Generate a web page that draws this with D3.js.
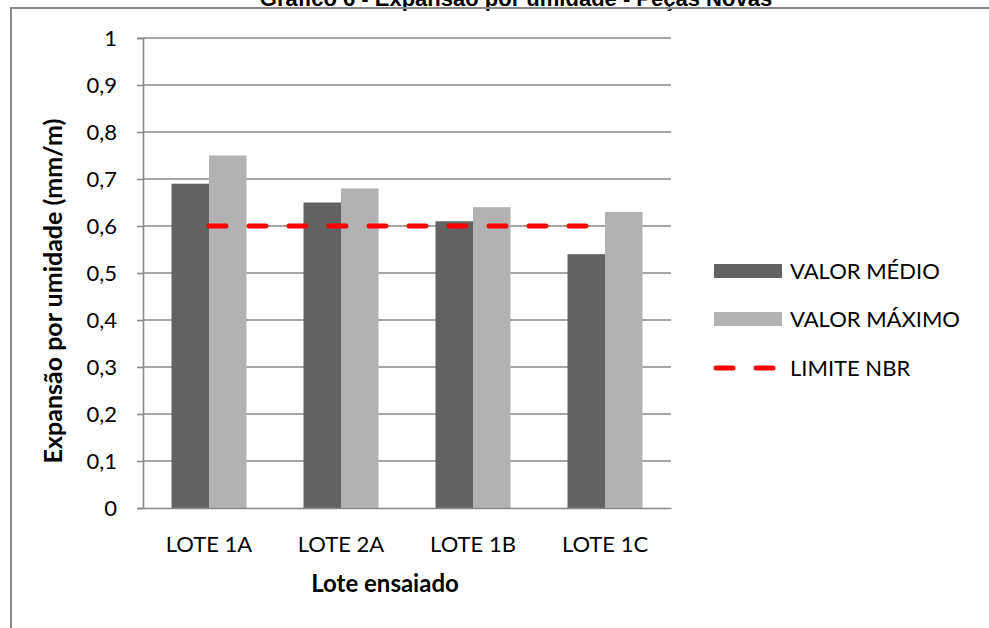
<!DOCTYPE html>
<html>
<head>
<meta charset="utf-8">
<script src="https://cdn.jsdelivr.net/npm/d3@7/dist/d3.min.js"></script>
<style>
  html, body { margin: 0; padding: 0; background: #fff; }
  svg { display: block; }
</style>
</head>
<body>
<svg id="chart" width="989" height="628"></svg>
<script>
// Data
const categories = ["LOTE 1A", "LOTE 2A", "LOTE 1B", "LOTE 1C"];
const seriesNames = ["VALOR MÉDIO", "VALOR MÁXIMO"];
const valorMedio = [0.69, 0.65, 0.61, 0.54];
const valorMaximo = [0.75, 0.68, 0.64, 0.63];
const limiteNbr = [0.6, 0.6, 0.6, 0.6];
const yTicks = [0, 0.1, 0.2, 0.3, 0.4, 0.5, 0.6, 0.7, 0.8, 0.9, 1];
const limiteName = "LIMITE NBR";
const titleText = "Gráfico 6 - Expansão por umidade - Peças Novas";
const yTitle = "Expansão por umidade (mm/m)";
const xTitle = "Lote ensaiado";

const seriesColors = { "VALOR MÉDIO": "#626262", "VALOR MÁXIMO": "#b2b2b2" };
const gridColor = "#898989";
const labelFont = "Lato, 'Open Sans', sans-serif";

const svg = d3.select("#chart");

// Plot area
const plot = { left: 143, right: 671, top: 38, bottom: 508 };

const x = d3.scaleBand()
  .domain(categories)
  .range([plot.left, plot.right])
  .paddingInner(0.432)
  .paddingOuter(0.216);

const xInner = d3.scaleBand()
  .domain(seriesNames)
  .range([0, x.bandwidth()]);

const y = d3.scaleLinear().domain([0, 1]).range([plot.bottom, plot.top]);

// Title (sits mostly above the top edge of the frame)
svg.append("text")
  .attr("x", 516)
  .attr("y", 6)
  .attr("text-anchor", "middle")
  .attr("font-family", "'Liberation Sans', Arial, sans-serif")
  .attr("font-weight", "bold")
  .attr("font-size", 22)
  .attr("fill", "#000")
  .text(titleText);

// Chart frame (left and top edges)
svg.append("path")
  .attr("d", "M11,640 L11,8 L995,8")
  .attr("fill", "none")
  .attr("stroke", "#8a8a8a")
  .attr("stroke-width", 2);

// Horizontal gridlines
svg.append("g")
  .selectAll("line")
  .data(yTicks.filter(d => d > 0))
  .join("line")
  .attr("x1", plot.left)
  .attr("x2", plot.right)
  .attr("y1", d => y(d))
  .attr("y2", d => y(d))
  .attr("stroke", gridColor)
  .attr("stroke-width", 1.6);

// Y axis
const yAxis = d3.axisLeft(y)
  .tickValues(yTicks)
  .tickSize(6)
  .tickPadding(20)
  .tickFormat(d => d3.format("~g")(d).replace(".", ","));

const gy = svg.append("g")
  .attr("transform", `translate(${plot.left},0)`)
  .call(yAxis);
gy.select(".domain").attr("stroke", gridColor).attr("stroke-width", 1.6);
gy.selectAll(".tick line").attr("stroke", gridColor).attr("stroke-width", 1.6);
gy.selectAll(".tick text")
  .attr("font-family", labelFont)
  .attr("font-size", 22)
  .attr("fill", "#000");

// Bars
const seriesData = [valorMedio, valorMaximo];
const barGroups = svg.append("g")
  .selectAll("g")
  .data(categories)
  .join("g")
  .attr("transform", d => `translate(${x(d)},0)`);

barGroups.selectAll("rect")
  .data((c, i) => seriesNames.map((s, k) => ({ s, v: seriesData[k][i] })))
  .join("rect")
  .attr("x", d => xInner(d.s))
  .attr("width", xInner.bandwidth())
  .attr("y", d => y(d.v))
  .attr("height", d => y(0) - y(d.v))
  .attr("fill", d => seriesColors[d.s]);

// X axis
const xAxis = d3.axisBottom(x).tickSize(0).tickPadding(28);
const gx = svg.append("g")
  .attr("transform", `translate(0,${plot.bottom})`)
  .call(xAxis);
gx.select(".domain").attr("stroke", gridColor).attr("stroke-width", 1.6);
gx.selectAll(".tick text")
  .attr("font-family", labelFont)
  .attr("font-size", 22)
  .attr("fill", "#000");

// Limit line
const line = d3.line()
  .x((d, i) => x(categories[i]) + x.bandwidth() / 2)
  .y(d => y(d));

svg.append("path")
  .datum(limiteNbr)
  .attr("d", line)
  .attr("fill", "none")
  .attr("stroke", "#ff0000")
  .attr("stroke-width", 5)
  .attr("stroke-linecap", "round")
  .attr("stroke-dasharray", "17,23");

// Axis titles
svg.append("text")
  .attr("transform", "translate(62,291) rotate(-90)")
  .attr("text-anchor", "middle")
  .attr("font-family", labelFont)
  .attr("font-weight", "bold")
  .attr("font-size", 25)
  .attr("fill", "#000")
  .text(yTitle);

svg.append("text")
  .attr("x", 385)
  .attr("y", 592)
  .attr("text-anchor", "middle")
  .attr("font-family", labelFont)
  .attr("font-weight", "bold")
  .attr("font-size", 24)
  .attr("fill", "#000")
  .text(xTitle);

// Legend
const legend = svg.append("g").attr("transform", "translate(714,0)");
const legendRows = [
  { name: seriesNames[0], type: "rect", y: 271 },
  { name: seriesNames[1], type: "rect", y: 319 },
  { name: limiteName, type: "line", y: 368 }
];
legendRows.forEach(r => {
  if (r.type === "rect") {
    legend.append("rect")
      .attr("x", 0).attr("y", r.y - 7)
      .attr("width", 68).attr("height", 14)
      .attr("fill", seriesColors[r.name]);
  } else {
    legend.append("line")
      .attr("x1", 2).attr("x2", 60)
      .attr("y1", r.y).attr("y2", r.y)
      .attr("stroke", "#ff0000")
      .attr("stroke-width", 5)
      .attr("stroke-linecap", "round")
      .attr("stroke-dasharray", "17,23");
  }
  legend.append("text")
    .attr("x", 76)
    .attr("y", r.y)
    .attr("dy", "0.35em")
    .attr("font-family", labelFont)
    .attr("font-size", 22)
    .attr("fill", "#000")
    .text(r.name);
});
</script>
</body>
</html>
